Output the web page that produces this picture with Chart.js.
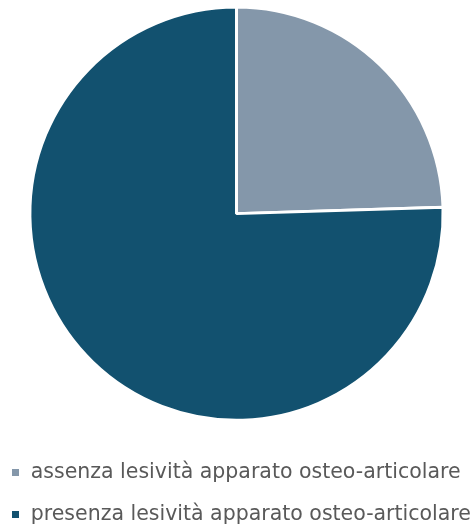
<!DOCTYPE html>
<html>
<head>
<meta charset="utf-8">
<script src="https://cdn.jsdelivr.net/npm/chart.js@4/dist/chart.umd.min.js"></script>
<style>
  html, body { margin: 0; padding: 0; background: #fff; }
  #wrap { width: 473px; height: 529px; }
</style>
</head>
<body>
<div id="wrap"><canvas id="pie"></canvas></div>
<script>
// categories and their shares (%)
const labels = ['assenza lesività apparato osteo-articolare', 'presenza lesività apparato osteo-articolare'];
const values = [24.5, 75.5];
const colors = ['#8497aa', '#12516f'];

const config = {
  type: 'pie',
  data: {
    labels: labels,
    datasets: [{
      data: values,
      backgroundColor: colors,
      borderColor: '#ffffff',
      borderWidth: 3,
      hoverOffset: 0,
    }],
  },
  options: {
    responsive: true,
    maintainAspectRatio: false,
    animation: false,
    layout: {
      padding: { left: -11, right: -8, top: 5.5, bottom: -5.75 },
    },
    plugins: {
      tooltip: { enabled: false },
      legend: {
        position: 'bottom',
        align: 'start',
        // empty title only used as a spacer above the rows
        title: {
          display: true,
          text: '',
          font: { size: 9, lineHeight: 1 },
          padding: { top: 5, bottom: 5 },
        },
        labels: {
          boxWidth: 10,
          boxHeight: 10,
          padding: 21.5,
          color: '#595959',
          font: { family: 'DejaVu Sans', size: 20.5 },
        },
      },
    },
  },
};
new Chart(document.getElementById('pie'), config);
</script>
</body>
</html>
